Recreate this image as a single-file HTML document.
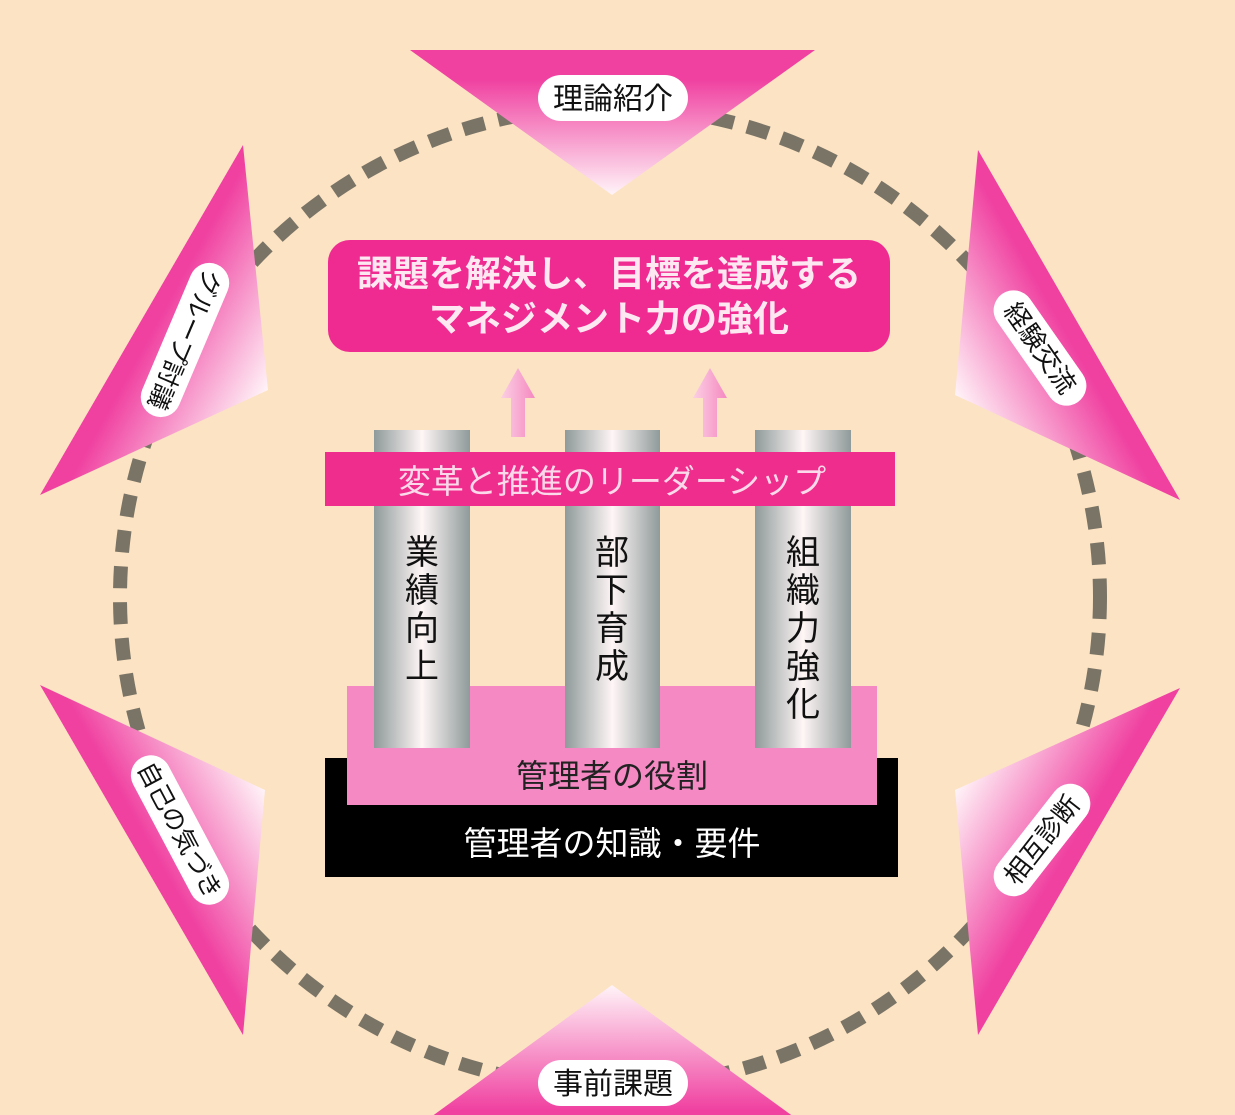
<!DOCTYPE html>
<html><head><meta charset="utf-8"><style>
body{margin:0;width:1235px;height:1115px;overflow:hidden;background:#fce3c3;}
svg{display:block}
text{font-family:"Liberation Sans","Noto Sans CJK JP",sans-serif;}
</style></head><body>
<svg width="1235" height="1115" viewBox="0 0 1235 1115">
<defs>
<linearGradient id="gT" gradientUnits="userSpaceOnUse" x1="612" y1="50" x2="612" y2="195"><stop offset="0.2" stop-color="#f040a0"/><stop offset="1" stop-color="#fff4f8"/></linearGradient>
<linearGradient id="gB" gradientUnits="userSpaceOnUse" x1="612" y1="1125" x2="612" y2="985"><stop offset="0.1" stop-color="#f040a0"/><stop offset="1" stop-color="#fff4f8"/></linearGradient>
<linearGradient id="gUL" gradientUnits="userSpaceOnUse" x1="141" y1="320" x2="268" y2="390"><stop offset="0.1" stop-color="#f040a0"/><stop offset="1" stop-color="#fff4f8"/></linearGradient>
<linearGradient id="gUR" gradientUnits="userSpaceOnUse" x1="1079" y1="325" x2="955" y2="395"><stop offset="0.1" stop-color="#f040a0"/><stop offset="1" stop-color="#fff4f8"/></linearGradient>
<linearGradient id="gLL" gradientUnits="userSpaceOnUse" x1="141" y1="860" x2="265" y2="790"><stop offset="0.1" stop-color="#f040a0"/><stop offset="1" stop-color="#fff4f8"/></linearGradient>
<linearGradient id="gLR" gradientUnits="userSpaceOnUse" x1="1079" y1="862" x2="955" y2="790"><stop offset="0.1" stop-color="#f040a0"/><stop offset="1" stop-color="#fff4f8"/></linearGradient>
<linearGradient id="col" x1="0" y1="0" x2="1" y2="0"><stop offset="0" stop-color="#8f9a9a"/><stop offset="0.5" stop-color="#fff6f6"/><stop offset="1" stop-color="#8f9a9a"/></linearGradient>
<linearGradient id="arr" x1="0" y1="0" x2="1" y2="0"><stop offset="0" stop-color="#fbd0e4"/><stop offset="1" stop-color="#f589c0"/></linearGradient>
</defs>
<circle cx="610" cy="597" r="490" fill="none" stroke="#7a7466" stroke-width="14" stroke-dasharray="22 14"/>
<polygon points="410,50 815,50 612,195" fill="url(#gT)"/>
<polygon points="420,1125 805,1125 612,985" fill="url(#gB)"/>
<polygon points="243,145 268,390 40,495" fill="url(#gUL)"/>
<polygon points="978,150 955,395 1180,500" fill="url(#gUR)"/>
<polygon points="40,685 265,790 243,1035" fill="url(#gLL)"/>
<polygon points="1180,688 955,790 978,1035" fill="url(#gLR)"/>

<rect x="538" y="75" width="150" height="46" rx="23" fill="#fff"/>
<text x="613" y="109" font-size="30" text-anchor="middle" fill="#111">理論紹介</text>
<rect x="538" y="1060" width="150" height="46" rx="23" fill="#fff"/>
<text x="613" y="1094" font-size="30" text-anchor="middle" fill="#111">事前課題</text>

<g transform="translate(185,340) rotate(113)"><rect x="-82" y="-20" width="164" height="40" rx="20" fill="#fff"/><text x="0" y="9" font-size="25" text-anchor="middle" fill="#111">グループ討議</text></g>
<g transform="translate(1040,348) rotate(55)"><rect x="-66" y="-20" width="132" height="40" rx="20" fill="#fff"/><text x="0" y="9" font-size="26" text-anchor="middle" fill="#111">経験交流</text></g>
<g transform="translate(180,830) rotate(62)"><rect x="-82" y="-20" width="164" height="40" rx="20" fill="#fff"/><text x="0" y="9" font-size="25" text-anchor="middle" fill="#111">自己の気づき</text></g>
<g transform="translate(1042,840) rotate(-52)"><rect x="-66" y="-20" width="132" height="40" rx="20" fill="#fff"/><text x="0" y="9" font-size="26" text-anchor="middle" fill="#111">相互診断</text></g>

<rect x="328" y="240" width="562" height="112" rx="22" fill="#ef2a90"/>
<text x="609" y="286" font-size="36" font-weight="bold" text-anchor="middle" fill="#fde8f2">課題を解決し、目標を達成する</text>
<text x="609" y="331" font-size="36" font-weight="bold" text-anchor="middle" fill="#fde8f2">マネジメント力の強化</text>

<polygon points="511,437 511,398 501,398 518,368 535,398 525,398 525,437" fill="url(#arr)"/>
<polygon points="703,437 703,398 693,398 710,368 727,398 717,398 717,437" fill="url(#arr)"/>

<rect x="325" y="758" width="573" height="119" fill="#000"/>
<rect x="347" y="686" width="530" height="119" fill="#f589c4"/>
<rect x="374" y="430" width="96" height="318" fill="url(#col)"/>
<rect x="565" y="430" width="95" height="318" fill="url(#col)"/>
<rect x="755" y="430" width="96" height="318" fill="url(#col)"/>
<rect x="325" y="452" width="570" height="54" fill="#ef2d8c"/>
<text x="612" y="493" font-size="33" text-anchor="middle" fill="#fcd9ea">変革と推進のリーダーシップ</text>

<g font-size="34" text-anchor="middle" fill="#111">
<text x="422" y="564">業</text><text x="422" y="602">績</text><text x="422" y="640">向</text><text x="422" y="678">上</text>
<text x="612" y="564">部</text><text x="612" y="602">下</text><text x="612" y="640">育</text><text x="612" y="678">成</text>
<text x="803" y="564">組</text><text x="803" y="602">織</text><text x="803" y="640">力</text><text x="803" y="678">強</text><text x="803" y="716">化</text>
</g>
<text x="612" y="787" font-size="32" text-anchor="middle" fill="#222">管理者の役割</text>
<text x="612" y="855" font-size="33" text-anchor="middle" fill="#fff">管理者の知識・要件</text>
</svg>
</body></html>
